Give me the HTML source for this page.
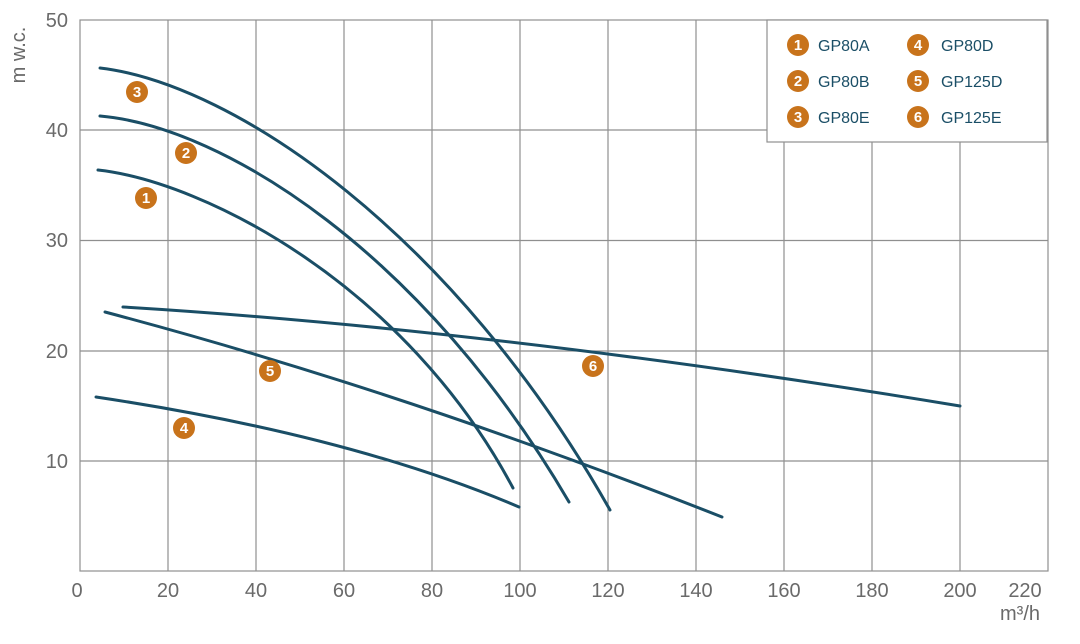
<!DOCTYPE html>
<html><head><style>
body{margin:0;background:#fff;}
svg text{font-family:"Liberation Sans",sans-serif;}
</style></head><body>
<svg width="1080" height="639" xmlns="http://www.w3.org/2000/svg">
<rect width="1080" height="639" fill="#fff"/>
<g stroke="#8f8f8f" stroke-width="1.2" fill="none">
<rect x="80" y="20" width="968" height="551"/>
<line x1="168" y1="20" x2="168" y2="571"/><line x1="256" y1="20" x2="256" y2="571"/>
<line x1="344" y1="20" x2="344" y2="571"/><line x1="432" y1="20" x2="432" y2="571"/>
<line x1="520" y1="20" x2="520" y2="571"/><line x1="608" y1="20" x2="608" y2="571"/>
<line x1="696" y1="20" x2="696" y2="571"/><line x1="784" y1="20" x2="784" y2="571"/>
<line x1="872" y1="20" x2="872" y2="571"/><line x1="960" y1="20" x2="960" y2="571"/>
<line x1="80" y1="130" x2="1048" y2="130"/><line x1="80" y1="240.5" x2="1048" y2="240.5"/>
<line x1="80" y1="351" x2="1048" y2="351"/><line x1="80" y1="461" x2="1048" y2="461"/>
</g>
<g fill="#6a6a6a" font-size="20">
<text x="68" y="27" text-anchor="end">50</text>
<text x="68" y="137" text-anchor="end">40</text>
<text x="68" y="247" text-anchor="end">30</text>
<text x="68" y="358" text-anchor="end">20</text>
<text x="68" y="468" text-anchor="end">10</text>
<g text-anchor="middle">
<text x="77" y="597">0</text><text x="168" y="597">20</text><text x="256" y="597">40</text>
<text x="344" y="597">60</text><text x="432" y="597">80</text><text x="520" y="597">100</text>
<text x="608" y="597">120</text><text x="696" y="597">140</text><text x="784" y="597">160</text>
<text x="872" y="597">180</text><text x="960" y="597">200</text><text x="1025" y="597">220</text>
</g>
<text x="1040" y="620" text-anchor="end">m³/h</text>
<text transform="translate(25,55) rotate(-90)" text-anchor="middle">m w.c.</text>
</g>
<g stroke="#1a4e66" stroke-width="3" fill="none" stroke-linecap="round">
<path d="M100,68 C235,84 455,235 610,510"/>
<path d="M100,116 C225,127 425,255 569,502"/>
<path d="M98,170 C205,182 405,285 513,488"/>
<path d="M123,307 Q500,330 960,406"/>
<path d="M105,312 Q400,390 722,517"/>
<path d="M96,397 Q350,435 519,507"/>
</g>
<rect x="767" y="20" width="280" height="122" fill="#fff" stroke="#8f8f8f" stroke-width="1.2"/>
<g fill="#c8731b">
<circle cx="137" cy="92" r="11"/><circle cx="186" cy="153" r="11"/><circle cx="146" cy="198" r="11"/>
<circle cx="270" cy="371" r="11"/><circle cx="593" cy="366" r="11"/><circle cx="184" cy="428" r="11"/>
<circle cx="798" cy="45" r="11"/><circle cx="798" cy="81" r="11"/><circle cx="798" cy="117" r="11"/>
<circle cx="918" cy="45" r="11"/><circle cx="918" cy="81" r="11"/><circle cx="918" cy="117" r="11"/>
</g>
<g fill="#fff" font-size="15" font-weight="bold" text-anchor="middle">
<text x="137" y="97">3</text><text x="186" y="158">2</text><text x="146" y="203">1</text>
<text x="270" y="376">5</text><text x="593" y="371">6</text><text x="184" y="433">4</text>
<text x="798" y="50">1</text><text x="798" y="86">2</text><text x="798" y="122">3</text>
<text x="918" y="50">4</text><text x="918" y="86">5</text><text x="918" y="122">6</text>
</g>
<g fill="#1a4e66" font-size="16">
<text x="818" y="51">GP80A</text><text x="818" y="87">GP80B</text><text x="818" y="123">GP80E</text>
<text x="941" y="51">GP80D</text><text x="941" y="87">GP125D</text><text x="941" y="123">GP125E</text>
</g>
</svg>
</body></html>
